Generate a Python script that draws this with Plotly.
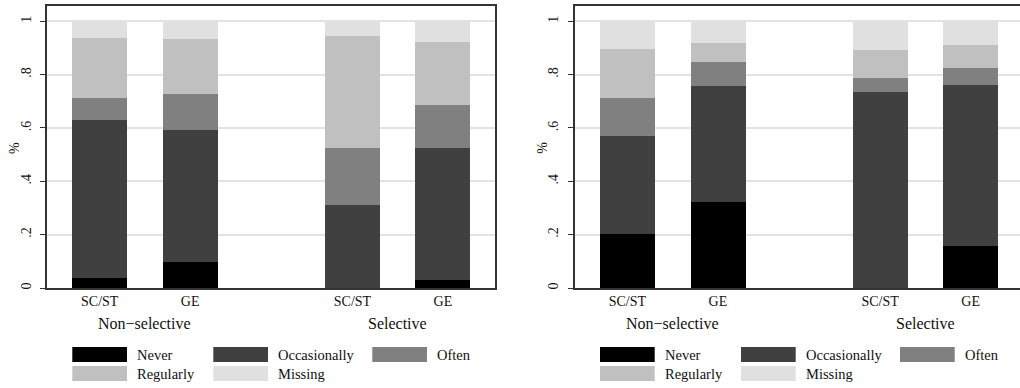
import plotly.graph_objects as go

# ---- data -------------------------------------------------------------
groups = ["Non−selective", "Selective"]
castes = ["SC/ST", "GE"]
responses = ["Never", "Occasionally", "Often", "Regularly", "Missing"]
tick_vals = [0, 0.2, 0.4, 0.6, 0.8, 1]
tick_text = ["0", ".2", ".4", ".6", ".8", "1"]

# shares per bar: Non-selective SC/ST, Non-selective GE, Selective SC/ST, Selective GE
a_never = [0.039, 0.0975, 0.0, 0.030]
a_occasionally = [0.591, 0.4965, 0.3125, 0.494]
a_often = [0.081, 0.1335, 0.2115, 0.162]
a_regularly = [0.225, 0.2075, 0.421, 0.2365]
a_missing = [0.064, 0.065, 0.055, 0.0775]

b_never = [0.201, 0.3225, 0.0, 0.159]
b_occasionally = [0.368, 0.4335, 0.734, 0.601]
b_often = [0.142, 0.090, 0.052, 0.065]
b_regularly = [0.184, 0.073, 0.1065, 0.0875]
b_missing = [0.105, 0.081, 0.1075, 0.0875]

# ---- styling / geometry ----------------------------------------------
fills = ["#000000", "#404040", "#808080", "#c0c0c0", "#e0e0e0"]
FONT = "Liberation Serif"
W, H = 1020, 388

PANEL_LEFT = [47.0, 574.7]     # frame left edge of each panel (px)
FRAME_W = 448.0                # frame width (px)
PLOT_TOP, PLOT_BOTTOM = 6.0, 288.0
PX_PER_Y = 266.7               # px per unit on the y scale

BAR_PX = 55.0                  # bar width in px (= 1 x unit)
BAR_STEP = 1.645               # centre distance within a group (x units)
GROUP_STEP = 4.596             # centre distance between groups (x units)
X_PAD = 0.958                  # frame edge to first bar centre (x units)

positions = [g * GROUP_STEP + i * BAR_STEP for g in range(len(groups)) for i in range(len(castes))]
labels = [c for _ in groups for c in castes]
y_top = (PLOT_BOTTOM - PLOT_TOP) / PX_PER_Y


def px_x(px):
    return px / W


def px_y(px):
    return 1 - px / H


panels = [
    [a_never, a_occasionally, a_often, a_regularly, a_missing],
    [b_never, b_occasionally, b_often, b_regularly, b_missing],
]

fig = go.Figure()
shapes = []
annotations = []

for p, series in enumerate(panels):
    xa = "x" if p == 0 else "x2"
    ya = "y" if p == 0 else "y2"
    for name, vals, col in zip(responses, series, fills):
        fig.add_trace(go.Bar(
            x=positions, y=vals, name=name, width=1.0,
            marker=dict(color=col, line=dict(width=0)),
            xaxis=xa, yaxis=ya, showlegend=False,
        ))

    left = PANEL_LEFT[p]
    right = min(left + FRAME_W, W)
    x0 = -X_PAD
    x1 = x0 + (right - left) / BAR_PX
    axis_x = dict(
        domain=[px_x(left), px_x(right)], range=[x0, x1],
        tickvals=positions, ticktext=labels, ticks="",
        ticklabelstandoff=-1,
        showgrid=False, zeroline=False,
        showline=True, linecolor="#333333", linewidth=1.5, mirror=True,
        tickfont=dict(family=FONT, size=14, color="#111111"),
        anchor=ya, fixedrange=True,
    )
    axis_y = dict(
        domain=[px_y(PLOT_BOTTOM), px_y(PLOT_TOP)], range=[0, y_top],
        tickvals=tick_vals, ticktext=tick_text, tickangle=-90,
        ticks="outside", ticklen=5, tickwidth=1.2, tickcolor="#333333",
        ticklabelstandoff=4,
        showgrid=True, gridcolor="#e3e3e3", gridwidth=2,
        zeroline=False, showline=True, linecolor="#333333", linewidth=1.5,
        mirror=(p == 0),
        tickfont=dict(family=FONT, size=14, color="#111111"),
        anchor=xa, fixedrange=True,
    )
    if p == 0:
        fig.update_layout(xaxis=axis_x, yaxis=axis_y)
    else:
        fig.update_layout(xaxis2=axis_x, yaxis2=axis_y)

    # y-axis title
    annotations.append(dict(
        text="%", x=px_x(left - 33), y=px_y(148), xref="paper", yref="paper",
        textangle=-90, showarrow=False, xanchor="center", yanchor="middle",
        font=dict(family=FONT, size=14, color="#111111"),
    ))
    # group labels under the caste labels
    for g, gname in enumerate(groups):
        centre = (positions[2 * g] + positions[2 * g + 1]) / 2
        annotations.append(dict(
            text=gname, x=centre, y=px_y(323.0), xref=xa, yref="paper",
            showarrow=False, xanchor="center", yanchor="middle",
            font=dict(family=FONT, size=16, color="#111111"),
        ))

    # legend: wide swatches in three columns, two rows
    sw_left = [25.3, 166.3, 325.3]
    rows = [(347.0, 362.0), (366.0, 381.0)]
    for k, (name, col) in enumerate(zip(responses, fills)):
        r, c = divmod(k, 3)
        sx = left + sw_left[c]
        top, bot = rows[r]
        shapes.append(dict(
            type="rect", xref="paper", yref="paper",
            x0=px_x(sx), x1=px_x(sx + 54.7), y0=px_y(bot), y1=px_y(top),
            fillcolor=col, line=dict(width=0),
        ))
        annotations.append(dict(
            text=name, x=px_x(sx + 62.7), y=px_y((top + bot) / 2),
            xref="paper", yref="paper", showarrow=False,
            xanchor="left", yanchor="middle",
            font=dict(family=FONT, size=14.5, color="#111111"),
        ))

fig.update_layout(
    width=W, height=H, barmode="stack", bargap=0,
    margin=dict(l=0, r=0, t=0, b=0),
    paper_bgcolor="white", plot_bgcolor="white",
    shapes=shapes, annotations=annotations, showlegend=False,
)

fig.write_html("out.html", config={"displayModeBar": False})
